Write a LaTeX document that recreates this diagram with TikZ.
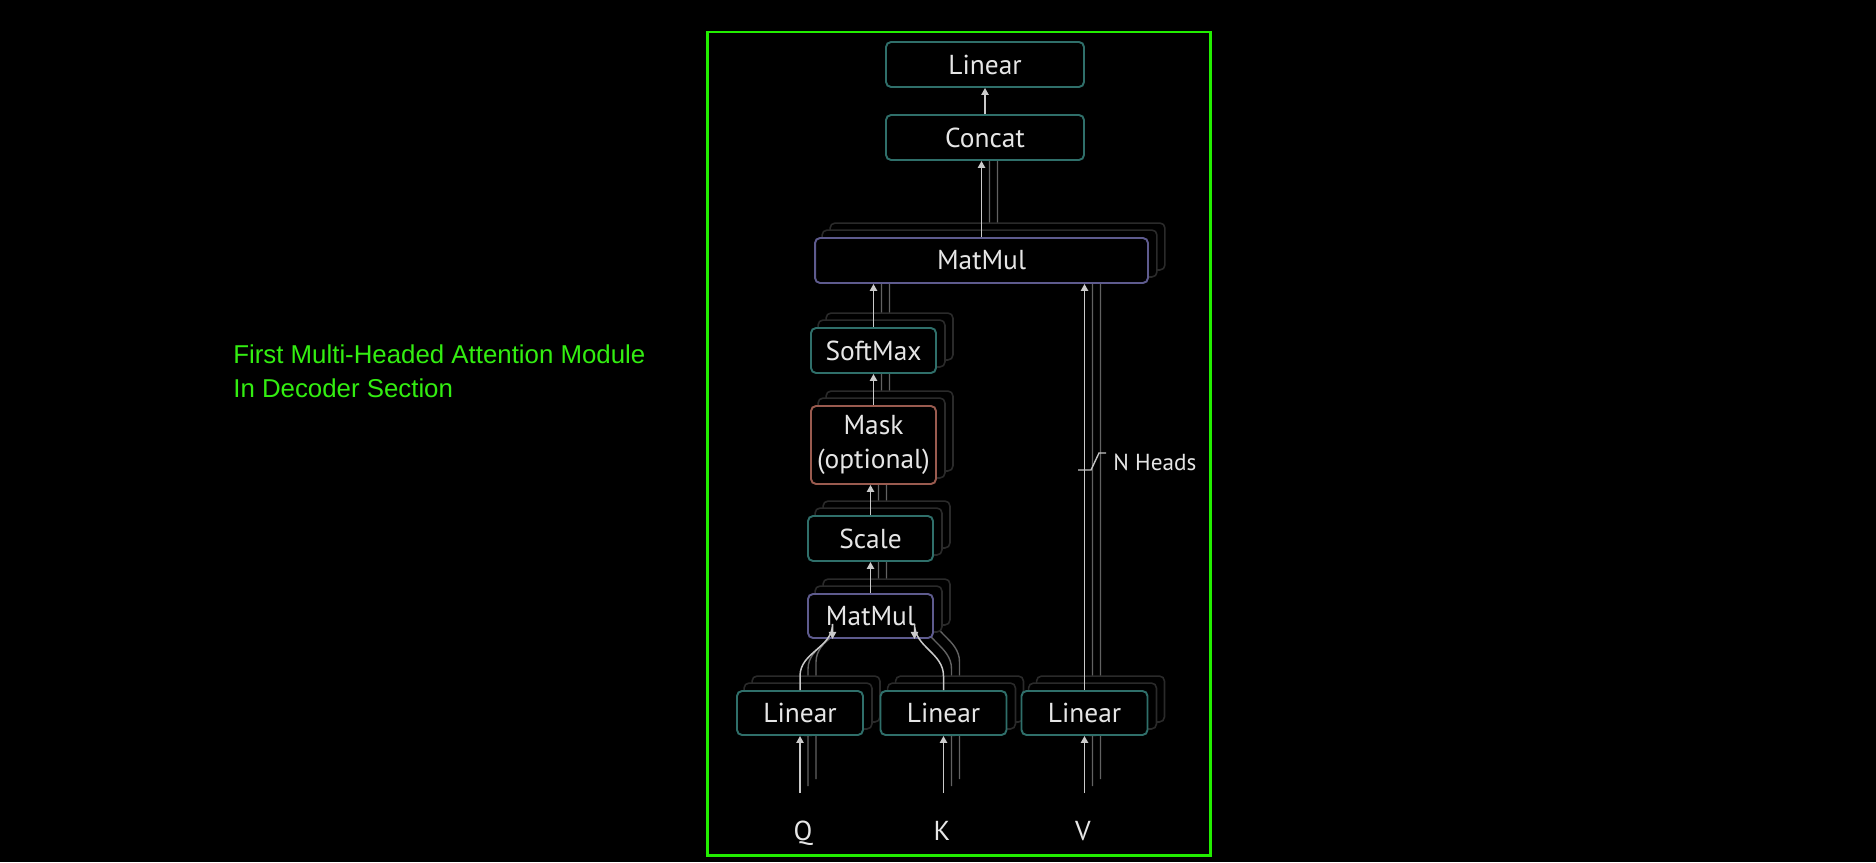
\documentclass[tikz,border=0pt]{standalone}
\usepackage{fontspec}
\setmainfont{PT Sans}
\newfontfamily\notefont{Liberation Sans}
\usetikzlibrary{arrows.meta, backgrounds}
\definecolor{framegreen}{HTML}{22EE00}
\definecolor{notegreen}{HTML}{33EE11}
\definecolor{tealedge}{HTML}{2F6F6A}
\definecolor{violetedge}{HTML}{5E5B8E}
\definecolor{maskedge}{HTML}{9A5B4F}
\definecolor{ink}{HTML}{E6E6E6}
\definecolor{ghost}{HTML}{2A2A2A}
\definecolor{ghostline}{HTML}{626262}
\tikzset{
    block/.style = {draw=tealedge, line width=1.1pt, rounded corners=0.1cm, fill=black,
        text=ink, font=\fontsize{15.6pt}{19.8pt}\selectfont, align=center,
        minimum width=2.5cm, minimum height=0.9cm, inner sep=0pt},
    mul/.style = {block, draw=violetedge},
    flow/.style = {-{Triangle[length=4pt, width=4.2pt]}, line width=0.85pt, ink!88!black},
    ghostflow/.style = {flow, ghostline, line width=0.8pt},
    ghostbox/.style = {draw=ghost, line width=0.9pt, rounded corners=0.1cm, fill=black},
    letter/.style = {text=ink, font=\fontsize{15.6pt}{19.8pt}\selectfont, inner sep=0pt, anchor=base},
    note/.style = {text=notegreen, font=\notefont\fontsize{14.7pt}{17pt}\selectfont, inner sep=0pt, anchor=base west}
}

\begin{document}
\begin{tikzpicture}[x=0.02cm, y=-0.02cm]
    \begin{pgfonlayer}{background}
        \fill[black] (0,0) rectangle (1876,862);
    \end{pgfonlayer}
    \useasboundingbox (0,0) rectangle (1876,862);
    \draw[framegreen, line width=1.7pt] (707,32) rectangle (1210,855);
    \node[note] (note1) at (233,363) {First Multi-Headed Attention Module};
    \node[note] (note2) at (233,397) {In Decoder Section};

    \node[block, minimum width=3.96cm] (lin) at (985,64.5) {Linear};
    \node[block, minimum width=3.96cm] (concat) at (985,137.5) {Concat};
    \node[mul, minimum width=6.66cm] (mm) at (981.5,260.5) {MatMul};
    \node[block] (soft) at (873.5,350.5) {SoftMax};
    \node[block, draw=maskedge, minimum height=1.56cm] (mask) at (873.5,445) {Mask\\(optional)};
    \node[block] (scale) at (870.5,538.5) {Scale};
    \node[mul, minimum height=0.88cm] (mm2) at (870.5,616) {MatMul};
    \node[block, minimum width=2.52cm, minimum height=0.88cm] (linq) at (800,713) {Linear};
    \node[block, minimum width=2.52cm, minimum height=0.88cm] (link) at (943.5,713) {Linear};
    \node[block, minimum width=2.52cm, minimum height=0.88cm] (linv) at (1084.5,713) {Linear};
    \node[letter] (q) at (803,840) {Q};
    \node[letter] (k) at (942,840) {K};
    \node[letter] (v) at (1083,840) {V};
    \coordinate (qin) at (800,793);
    \coordinate (kin) at (943.5,793);
    \coordinate (vin) at (1084.5,793);

    % the other heads, behind
    \begin{pgfonlayer}{background}
        \foreach \d in {1,2} {
            \foreach \a/\b in {mm/concat, soft/mm, mask/soft, scale/mask, mm2/scale, linv/mm}
                \draw[ghostflow] ([shift={(8*\d,-7*\d)}]\a.north) -- ([xshift=\d*0.16cm, yshift=\d*0.14cm]\a.north |- \b.south);
            \foreach \a/\b in {qin/linq, kin/link, vin/linv}
                \draw[ghostflow] ([shift={(8*\d,-7*\d)}]\a) -- ([xshift=\d*0.16cm, yshift=\d*0.14cm]\a |- \b.south);
            \draw[ghostflow] ([shift={(8*\d,-7*\d)}]linq.north) -- ++(0,-14) to[out=90, in=-90]
                ([shift={(-38+8*\d,-15-7*\d)}]mm2.south) -- ([shift={(-38+8*\d,-7*\d)}]mm2.south);
            \draw[ghostflow] ([shift={(8*\d,-7*\d)}]link.north) -- ++(0,-14) to[out=90, in=-90]
                ([shift={(44+8*\d,-15-7*\d)}]mm2.south) -- ([shift={(44+8*\d,-7*\d)}]mm2.south);
        }
        \foreach \n in {mm, soft, mask, scale, mm2, linq, link, linv}
            \foreach \d in {2,1}
                \draw[ghostbox] ([shift={(8*\d,-7*\d)}]\n.south west) rectangle ([shift={(8*\d,-7*\d)}]\n.north east);
    \end{pgfonlayer}

    \foreach \a/\b in {concat/lin, mm/concat, soft/mm, mask/soft, scale/mask, mm2/scale, linv/mm}
        \draw[flow] (\a.north) -- (\a.north |- \b.south);
    \foreach \a/\b in {qin/linq, kin/link, vin/linv}
        \draw[flow] (\a) -- (\a |- \b.south);
    \draw[flow] (linq.north) -- ++(0,-14) to[out=90, in=-90] ([shift={(-38,-15)}]mm2.south) -- ([shift={(-38,0)}]mm2.south);
    \draw[flow] (link.north) -- ++(0,-14) to[out=90, in=-90] ([shift={(44,-15)}]mm2.south) -- ([shift={(44,0)}]mm2.south);

    \node[text=ink, font=\fontsize{13.2pt}{15pt}\selectfont, inner sep=0pt, anchor=base west] (heads) at (1113,470) {N Heads};
    \draw[ink!85!black, line width=0.8pt] (1078,470) -- (1091,470) -- (1099,453) -- ([shift={(-7,-17)}]heads.base west);
\end{tikzpicture}
\end{document}
